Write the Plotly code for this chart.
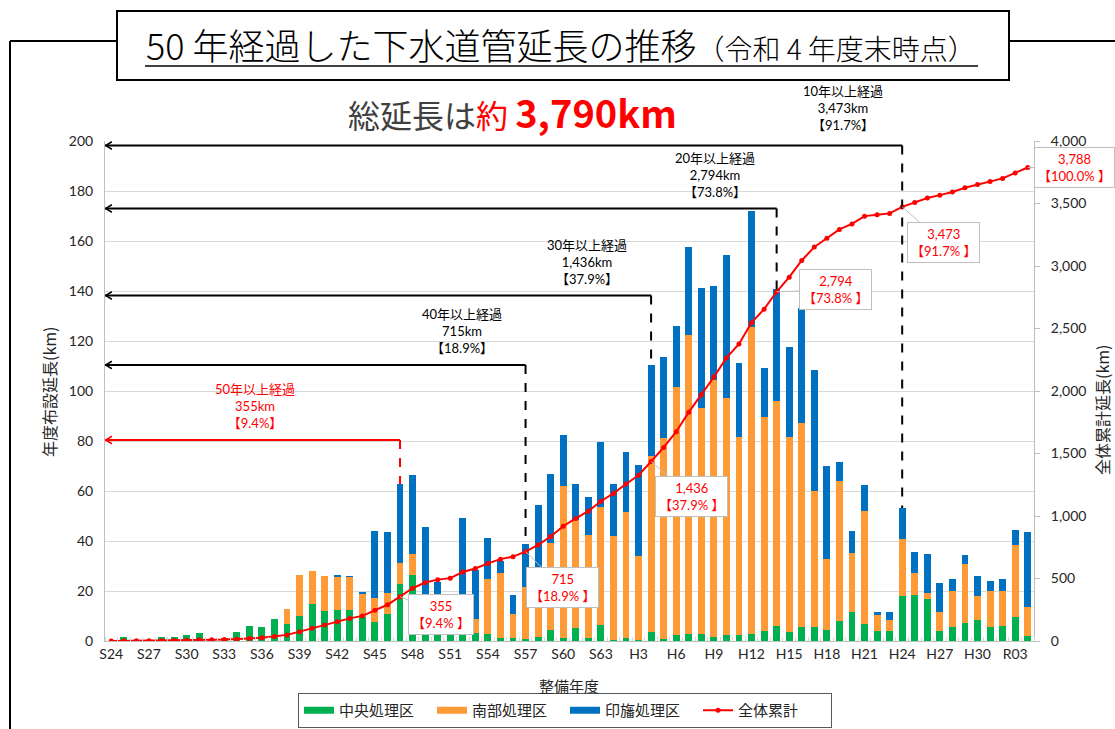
import plotly.graph_objects as go

# ---------------- data ----------------
categories = ([f"S{n}" for n in range(24, 64)] + [f"H{n}" for n in range(1, 31)]
              + ["R01", "R02", "R03", "R04"])

central = [0, 1.5, 0, 0, 1.5, 1.5, 2.4, 3.1, 0.5, 1.3,
           3.6, 6.0, 5.6, 8.7, 6.9, 10.1, 14.9, 12.1, 12.4, 12.6,
           9.7, 7.6, 10.7, 22.8, 26.5, 3.5, 3.5, 4.0, 4.0, 3.3,
           2.9, 1.1, 1.3, 1.0, 1.5, 4.3, 1.1, 5.3, 1.3, 6.3,
           0.5, 1.3, 0.5, 3.5, 1.0, 2.5, 3.0, 3.0, 1.5, 2.5,
           2.5, 3.0, 4.0, 6.0, 3.5, 5.5, 5.5, 4.5, 8.0, 11.5,
           6.9, 4.1, 4.1, 18.1, 18.4, 16.8, 4.1, 5.6, 7.3, 8.4,
           5.5, 6.1, 9.5, 1.9]

south = [0, 0, 0, 0, 0, 0, 0, 0, 0, 0,
         0, 0, 0, 0, 5.9, 16.4, 13.0, 14.0, 13.3, 13.1,
         9.4, 9.6, 8.4, 8.5, 8.4, 0, 0, 0, 0, 5.4,
         21.9, 26.2, 9.6, 20.6, 23.5, 34.8, 60.9, 43.1, 41.1, 47.4,
         41.6, 50.4, 33.6, 70.5, 80.3, 99.2, 119.4, 90.1, 102.9, 94.8,
         79.0, 122.7, 85.7, 90.1, 78.2, 81.8, 54.5, 28.5, 56.0, 23.6,
         45.1, 6.4, 4.3, 22.7, 8.8, 2.5, 7.4, 14.4, 23.4, 9.5,
         14.4, 13.9, 29.0, 11.8]

inba = [0, 0, 0, 0, 0, 0, 0, 0, 0, 0,
        0, 0, 0, 0, 0, 0, 0, 0, 0.6, 0.3,
        0.4, 26.9, 24.5, 31.5, 31.6, 42.2, 20.2, 7.5, 45.3, 19.7,
        16.5, 4.7, 7.5, 17.2, 29.4, 27.6, 20.4, 14.4, 15.1, 25.8,
        20.7, 23.9, 36.3, 36.5, 32.4, 24.4, 35.3, 48.2, 37.7, 57.1,
        29.8, 46.4, 19.4, 44.6, 36.0, 45.8, 48.4, 37.0, 7.5, 8.9,
        10.3, 1.0, 3.2, 12.4, 8.5, 15.5, 11.8, 4.7, 3.7, 8.0,
        4.2, 4.7, 5.8, 29.8]

cumulative = [0, 2, 2, 2, 3, 5, 7, 10, 11, 12,
              15, 21, 27, 36, 49, 75, 103, 129, 155, 181,
              201, 246, 290, 355, 422, 468, 491, 503, 552, 580,
              621, 655, 675, 715, 769, 836, 918, 981, 1039, 1118,
              1181, 1256, 1326, 1436, 1549, 1674, 1831, 1971, 2112, 2265,
              2376, 2547, 2655, 2794, 2911, 3044, 3152, 3222, 3293, 3337,
              3399, 3410, 3421, 3473, 3509, 3544, 3567, 3592, 3626, 3652,
              3676, 3701, 3745, 3788]

tick_labels = categories[::3]

milestone_ages = [50, 40, 30, 20, 10]
milestone_years = ["S47", "S57", "H4", "H14", "H24"]

# ---------------- style / layout constants ----------------
GREEN = "#00B050"
ORANGE = "#FF9B37"
BLUE = "#0070C0"
RED = "#FF0000"
FONT = "Lato, 'Noto Sans CJK JP', sans-serif"
JFONT = "'Noto Sans CJK JP', sans-serif"

W, H = 1115, 729
L, R, T, B = 105, 1034, 141, 641


def fx(px):
    return (px - L) / (R - L)


def fy(py):
    return (B - py) / (B - T)


x = list(range(len(categories)))
total = cumulative[-1]

fig = go.Figure()
fig.add_bar(x=x, y=central, marker=dict(color=GREEN, line=dict(width=0)), showlegend=False)
fig.add_bar(x=x, y=south, marker=dict(color=ORANGE, line=dict(width=0)), showlegend=False)
fig.add_bar(x=x, y=inba, marker=dict(color=BLUE, line=dict(width=0)), showlegend=False)

# legend entries (Excel-like wide swatches)
for nm, col in [("中央処理区", GREEN), ("南部処理区", ORANGE), ("印旛処理区", BLUE)]:
    fig.add_scatter(x=[None], y=[None], mode="lines", line=dict(color=col, width=7), name=nm)

fig.add_scatter(x=x, y=cumulative, yaxis="y2", mode="lines+markers", name="全体累計",
                line=dict(color=RED, width=2), marker=dict(color=RED, size=5))

shapes = []
annotations = []

# frame and title box
shapes.append(dict(type="line", xref="paper", yref="paper", x0=fx(10), x1=fx(10), y0=fy(41), y1=fy(740),
                   line=dict(color="black", width=2)))
shapes.append(dict(type="line", xref="paper", yref="paper", x0=fx(10), x1=fx(117), y0=fy(41), y1=fy(41),
                   line=dict(color="black", width=2)))
shapes.append(dict(type="line", xref="paper", yref="paper", x0=fx(1009), x1=fx(1120), y0=fy(41), y1=fy(41),
                   line=dict(color="black", width=2)))
shapes.append(dict(type="rect", xref="paper", yref="paper", x0=fx(117), x1=fx(1009), y0=fy(80), y1=fy(11),
                   line=dict(color="black", width=2), fillcolor="white"))
shapes.append(dict(type="line", xref="paper", yref="paper", x0=fx(145), x1=fx(978), y0=fy(66), y1=fy(66),
                   line=dict(color="black", width=1.5)))

annotations.append(dict(xref="paper", yref="paper", x=fx(561), y=fy(44), showarrow=False,
                        text="50 年経過した下水道管延長の推移<span style='font-size:28px'>（令和 4 年度末時点）</span>",
                        font=dict(family=JFONT, size=36, color="black", weight=300),
                        xanchor="center", yanchor="middle"))
annotations.append(dict(xref="paper", yref="paper", x=fx(512), y=fy(112), showarrow=False,
                        text="総延長は<span style='color:#FF0000'>約 <b><span style='font-size:38px'>3,790km</span></b></span>",
                        font=dict(family=JFONT, size=32, color="#404040"),
                        xanchor="center", yanchor="middle"))

# milestone brackets
levels = [80.4, 110.4, 138.2, 173.0, 198.2]
label_pos = [(255, 406), (462, 331), (587, 262), (715, 175), (843, 108)]
for age, yr, lev, (lx, ly) in zip(milestone_ages, milestone_years, levels, label_pos):
    i = categories.index(yr)
    col = RED if age == 50 else "black"
    top = central[i] + south[i] + inba[i]
    shapes.append(dict(type="line", xref="x", yref="y", x0=-0.5, x1=i, y0=lev, y1=lev,
                       line=dict(color=col, width=2)))
    shapes.append(dict(type="line", xref="x", yref="y", x0=i, x1=i, y0=lev, y1=top,
                       line=dict(color=col, width=2, dash="dash")))
    shapes.append(dict(type="path", xref="x", yref="y",
                       path=f"M {-0.5 + 0.55},{lev + 1.5} L -0.46,{lev} L {-0.5 + 0.55},{lev - 1.5}",
                       line=dict(color=col, width=1.5)))
    cum = cumulative[i]
    annotations.append(dict(xref="paper", yref="paper", x=fx(lx), y=fy(ly), showarrow=False,
                            text=f"{age}年以上経過<br>{cum:,}km<br>【{cum / total * 100:.1f}%】",
                            font=dict(family=FONT, size=13, color=col), align="center",
                            xanchor="center", yanchor="middle"))

# callouts on the cumulative line
callout_years = milestone_years + [categories[-1]]
offsets = [(41, 18), (37, 36), (40, 35), (59, -2), (41, 36), (47, 0)]
for yr, (ax, ay) in zip(callout_years, offsets):
    i = categories.index(yr)
    cum = cumulative[i]
    annotations.append(dict(xref="x", yref="y2", x=i, y=cum, ax=ax, ay=ay, showarrow=True,
                            arrowhead=0, arrowwidth=1, arrowcolor="#BFBFBF", standoff=0,
                            text=f"{cum:,}<br>【{cum / total * 100:.1f}% 】",
                            font=dict(family=FONT, size=13, color=RED), align="center",
                            bgcolor="white", bordercolor="#BFBFBF", borderwidth=1, borderpad=3))

# axis titles
annotations.append(dict(xref="paper", yref="paper", x=fx(569), y=fy(685), showarrow=False,
                        text="整備年度", font=dict(family=JFONT, size=15, color="#262626"),
                        xanchor="center", yanchor="middle"))
annotations.append(dict(xref="paper", yref="paper", x=fx(49), y=fy(392), showarrow=False,
                        text="年度布設延長(km)", textangle=-90,
                        font=dict(family=JFONT, size=16, color="#262626"),
                        xanchor="center", yanchor="middle"))
annotations.append(dict(xref="paper", yref="paper", x=fx(1102), y=fy(410), showarrow=False,
                        text="全体累計延長(km)", textangle=-90,
                        font=dict(family=JFONT, size=16, color="#262626"),
                        xanchor="center", yanchor="middle"))

fig.update_layout(
    width=W, height=H,
    margin=dict(l=L, r=W - R, t=T, b=H - B, autoexpand=False),
    paper_bgcolor="white", plot_bgcolor="white",
    barmode="stack", bargap=0.45,
    font=dict(family=FONT, size=14, color="#262626"),
    shapes=shapes, annotations=annotations,
    legend=dict(orientation="h", x=fx(565), xanchor="center", y=fy(693), yanchor="top",
                bordercolor="#595959", borderwidth=1, bgcolor="white",
                font=dict(family=JFONT, size=15, color="#262626"),
                entrywidth=88, traceorder="normal", tracegroupgap=0),
    xaxis=dict(range=[-0.5, len(categories) - 0.5], tickmode="array",
               tickvals=x[::3], ticktext=tick_labels, showgrid=False,
               showline=True, linecolor="#BFBFBF", ticks="", zeroline=False,
               tickfont=dict(size=14, color="#262626"),
               minor=dict(tick0=-0.5, dtick=1, ticks="inside", ticklen=4, tickcolor="#D9D9D9",
                          showgrid=False)),
    yaxis=dict(range=[0, 200], dtick=20, showgrid=True, gridcolor="#D9D9D9",
               showline=True, linecolor="#BFBFBF", ticks="", zeroline=False,
               tickfont=dict(size=14, color="#262626"), ticklabelstandoff=8),
    yaxis2=dict(range=[0, 4000], dtick=500, tickformat=",", overlaying="y", side="right",
                showgrid=False, showline=True, linecolor="#BFBFBF", ticks="outside",
                ticklen=5, tickcolor="#BFBFBF", zeroline=False,
                tickfont=dict(size=14, color="#262626"), ticklabelstandoff=8),
)

fig.write_html("out.html", config={"displayModeBar": False},
               post_script="document.body.style.margin='0px';")
